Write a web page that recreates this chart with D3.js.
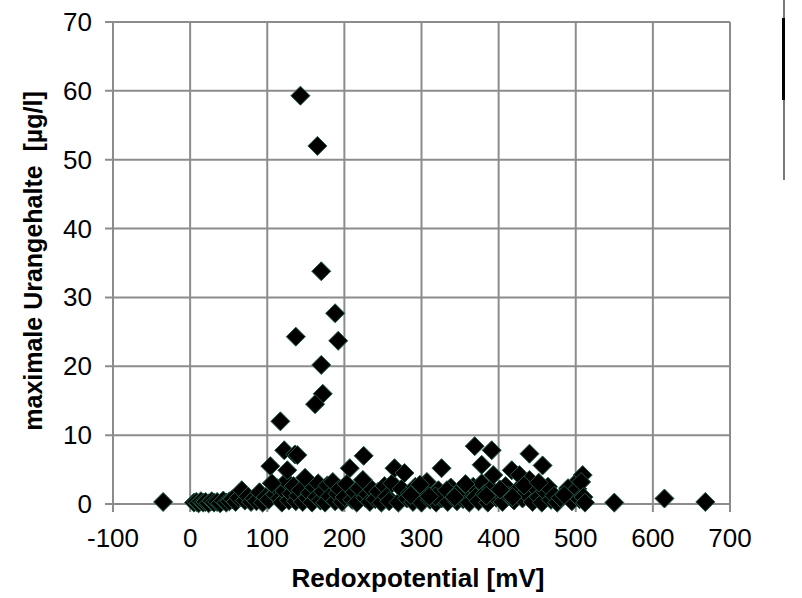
<!DOCTYPE html>
<html><head><meta charset="utf-8">
<script src="https://cdn.jsdelivr.net/npm/d3@7"></script>
<style>body{margin:0;background:#fff}svg{display:block}</style>
</head><body>
<svg id="c" width="802" height="598"></svg>
<script>
const xTicks = [-100,0,100,200,300,400,500,600,700];
const yTicks = [0,10,20,30,40,50,60,70];
const xTitle = "Redoxpotential [mV]";
const yTitle = "maximale Urangehalte  [µg/l]";
// Redoxpotential [mV]
const redox = [
 -35,143,165,170,137,188,192,170,172,162,117,122,136,104,225,207,326,369,391,378,440,457,509,498,550,615,668,
 5,8,11,14,17,20,24,28,31,35,39,43,47,51,55,59,63,67,71,75,79,83,86,90,94,98,102,106,110,113,116,119,122,125,128,131,134,137,140,143,146,149,152,155,158,161,164,166,169,172,175,178,181,185,188,191,194,197,200,203,210,213,216,219,224,227,230,233,236,240,244,248,252,255,258,262,265,270,274,278,281,285,289,292,296,300,304,307,311,315,319,322,326,330,334,338,342,346,350,354,358,362,367,370,374,378,382,386,390,393,397,401,405,409,413,417,420,424,427,431,435,440,444,448,452,456,460,464,468,472,476,490,495,498,502,505,507,510,512,126,139,106,
 286,298,318,333,345,357,384,402,418,433,452,480,485,343,310
];
// maximale Urangehalte [µg/l]
const uran = [
 0.3,59.3,52.0,33.8,24.3,27.7,23.7,20.2,16.0,14.5,12.0,7.8,7.2,5.5,7.0,5.2,5.2,8.4,7.8,5.7,7.3,5.6,4.2,2.8,0.2,0.8,0.3,
 0.2,0.3,0.1,0.4,0.2,0.3,0.1,0.4,0.2,0.3,0.1,0.5,0.2,0.4,0.7,0.3,0.9,2.0,0.5,1.1,0.3,0.8,0.4,1.7,0.2,1.0,0.6,3.0,1.4,2.3,0.8,0.2,1.9,3.3,0.5,1.5,2.6,0.4,1.2,2.0,0.3,3.8,0.9,1.6,0.2,2.4,1.0,3.0,0.5,1.8,0.2,2.7,1.1,3.2,0.4,1.5,2.2,0.3,1.0,2.9,0.6,1.7,0.2,2.3,3.5,0.9,1.4,0.3,2.1,0.7,1.8,0.2,2.6,1.1,0.4,3.0,5.2,0.2,2.2,4.5,0.8,1.6,0.3,2.5,1.0,0.2,1.8,3.2,0.6,1.3,0.2,2.0,0.8,1.5,0.3,2.4,1.1,0.4,2.0,0.7,1.6,0.2,2.5,1.0,0.4,3.0,1.5,0.2,2.2,4.2,0.9,1.7,0.3,2.6,1.2,4.9,0.5,2.0,4.2,0.8,1.6,3.5,0.3,2.3,1.0,0.2,1.8,2.5,0.6,1.2,0.2,2.3,0.4,1.5,2.2,0.7,3.2,1.0,0.2,4.9,7.1,3.0,
 1.3,2.8,1.1,2.0,1.4,2.9,1.2,2.1,1.0,2.7,3.1,0.9,1.3,1.0,1.1
];

const svg = d3.select("#c");
const m = {l:113, r:730, t:22, b:504};
const x = d3.scaleLinear().domain([-100,700]).range([m.l,m.r]);
const y = d3.scaleLinear().domain([0,70]).range([m.b,m.t]);
const grid = "#8c8c8c";
const font = "Liberation Sans, Arial, sans-serif";

// gridlines
svg.append("g").selectAll("line").data(yTicks).join("line")
  .attr("x1",m.l-8).attr("x2",m.r).attr("y1",d=>y(d)).attr("y2",d=>y(d))
  .attr("stroke",grid).attr("stroke-width",2);
svg.append("g").selectAll("line").data(xTicks).join("line")
  .attr("y1",m.t).attr("y2",m.b+8).attr("x1",d=>x(d)).attr("x2",d=>x(d))
  .attr("stroke",grid).attr("stroke-width",2);

// tick labels
svg.append("g").selectAll("text").data(yTicks).join("text")
  .attr("x",m.l-21).attr("y",d=>y(d)+9).attr("text-anchor","end")
  .attr("font-family",font).attr("font-size",26).attr("fill","#000")
  .text(d=>d);
svg.append("g").selectAll("text").data(xTicks).join("text")
  .attr("x",d=>x(d)).attr("y",m.b+43).attr("text-anchor","middle")
  .attr("font-family",font).attr("font-size",26).attr("fill","#000")
  .text(d=>d);

// titles
svg.append("text").attr("x",418).attr("y",587).attr("text-anchor","middle")
  .attr("font-family",font).attr("font-weight","bold").attr("font-size",26)
  .text(xTitle);
svg.append("text").attr("transform",`translate(42,${(m.t+m.b)/2 - 2}) rotate(-90)`).attr("text-anchor","middle")
  .attr("font-family",font).attr("font-weight","bold").attr("font-size",25)
  .style("white-space","pre")
  .text(yTitle);

// markers
const pts = redox.map((v,i)=>[v,uran[i]]);
const s = 9.5;
svg.append("g").selectAll("path").data(pts).join("path")
  .attr("d",d=>`M${x(d[0])},${y(d[1])-s}L${x(d[0])+s},${y(d[1])}L${x(d[0])},${y(d[1])+s}L${x(d[0])-s},${y(d[1])}Z`)
  .attr("fill","#000").attr("stroke","#1d5a44").attr("stroke-width",1);

// cut-off legend box edge at right
svg.append("line").attr("x1",784).attr("x2",784).attr("y1",0).attr("y2",180).attr("stroke","#222").attr("stroke-width",1.2);
svg.append("rect").attr("x",782).attr("y",18).attr("width",3).attr("height",82).attr("fill","#000");
</script>
</body></html>
